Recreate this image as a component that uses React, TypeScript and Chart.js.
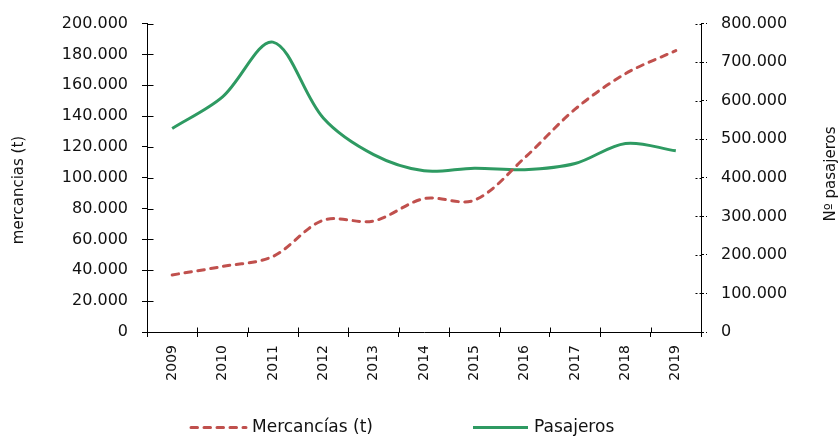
import React, { useEffect, useRef } from "react";
import { Chart, registerables } from "chart.js";

Chart.register(...registerables);

const years = ["2009", "2010", "2011", "2012", "2013", "2014", "2015", "2016", "2017", "2018", "2019"];
const mercancias = [37000, 42500, 49000, 72500, 72000, 86500, 85500, 113000, 144500, 167500, 182500];
const pasajeros = [528000, 610000, 752000, 555000, 460000, 418000, 425000, 421000, 437000, 489000, 470000];

const leftTitle = "mercancias (t)";
const rightTitle = "Nº pasajeros";
const labelMercancias = "Mercancías (t)";
const labelPasajeros = "Pasajeros";

const leftMax = 200000;
const leftStep = 20000;
const rightMax = 800000;
const rightStep = 100000;

const RED = "#C0504D";
const GREEN = "#2E9A62";
const FONT = "DejaVu Sans";
const TXT = "#111111";

const fmt = (v: number) => String(Math.round(v)).replace(/\B(?=(\d{3})+(?!\d))/g, ".");

const extras = {
  id: "extras",
  afterDraw(chart: any) {
    const { ctx, chartArea, scales } = chart;
    const { left, right, bottom } = chartArea;
    ctx.save();
    ctx.strokeStyle = "#000";
    ctx.lineWidth = 1;
    // inner tick stubs on left axis
    const ys = scales.y;
    const lx = Math.round(left) + 0.5;
    ys.ticks.forEach((_t: any, i: number) => {
      const py = Math.round(ys.getPixelForTick(i)) + 0.5;
      ctx.beginPath();
      ctx.moveTo(lx, py);
      ctx.lineTo(lx + 6, py);
      ctx.stroke();
    });
    // inner stubs on x axis at category boundaries
    const n = years.length;
    const by = Math.round(bottom) + 0.5;
    for (let i = 0; i <= n; i++) {
      const px = Math.round(left + ((right - left) * i) / n) + 0.5;
      ctx.beginPath();
      ctx.moveTo(px, by);
      ctx.lineTo(px, by - 5);
      ctx.stroke();
    }
    // inner stubs on right axis (dashed)
    const rs = scales.y1;
    const rx = Math.round(right) + 0.5;
    ctx.setLineDash([2, 2]);
    rs.ticks.forEach((_t: any, i: number) => {
      const py = Math.round(rs.getPixelForTick(i)) + 0.5;
      ctx.beginPath();
      ctx.moveTo(rx - 6, py);
      ctx.lineTo(rx, py);
      ctx.stroke();
    });
    ctx.setLineDash([]);

    // axis titles
    ctx.fillStyle = TXT;
    ctx.font = `15px "${FONT}"`;
    ctx.textAlign = "center";
    ctx.textBaseline = "middle";
    ctx.save();
    ctx.translate(19, 190);
    ctx.rotate(-Math.PI / 2);
    ctx.fillText(leftTitle, 0, 0);
    ctx.restore();
    ctx.save();
    ctx.translate(831, 174);
    ctx.rotate(-Math.PI / 2);
    ctx.fillText(rightTitle, 0, 0);
    ctx.restore();

    // legend
    const ly = 427.5;
    const items = [
      { x: 191, ds: chart.data.datasets[0] },
      { x: 473, ds: chart.data.datasets[1] },
    ];
    ctx.font = `17px "${FONT}"`;
    ctx.textAlign = "left";
    items.forEach(({ x, ds }) => {
      ctx.save();
      ctx.strokeStyle = ds.borderColor;
      ctx.lineWidth = ds.borderWidth;
      ctx.lineCap = ds.borderCapStyle || "butt";
      ctx.setLineDash(ds.borderDash || []);
      ctx.beginPath();
      ctx.moveTo(x, ly);
      ctx.lineTo(x + 55, ly);
      ctx.stroke();
      ctx.restore();
      ctx.fillStyle = TXT;
      ctx.fillText(ds.label, x + 61, ly);
    });
    ctx.restore();
  },
};

export default function App() {
  const ref = useRef<HTMLCanvasElement | null>(null);
  useEffect(() => {
    if (!ref.current) return;
    const chart = new Chart(ref.current, {
      type: "line",
      data: {
        labels: years,
        datasets: [
          {
            label: labelMercancias,
            data: mercancias,
            borderColor: RED,
            backgroundColor: RED,
            borderWidth: 3,
            borderDash: [6.5, 6.5],
            borderCapStyle: "round",
            pointRadius: 0,
            tension: 0.33,
            yAxisID: "y",
          },
          {
            label: labelPasajeros,
            data: pasajeros,
            borderColor: GREEN,
            backgroundColor: GREEN,
            borderWidth: 3,
            pointRadius: 0,
            tension: 0.33,
            yAxisID: "y1",
          },
        ],
      },
      options: {
        responsive: false,
        animation: false,
        devicePixelRatio: 1,
        layout: { padding: { top: 22, bottom: 0, left: 0, right: 0 } },
        plugins: { legend: { display: false }, tooltip: { enabled: false } },
        scales: {
          x: {
            offset: true,
            grid: { offset: true, drawOnChartArea: false, drawTicks: true, tickLength: 5, color: "#000" },
            border: { display: true, color: "#000", width: 1 },
            ticks: {
              autoSkip: false,
              minRotation: 90,
              maxRotation: 90,
              padding: 8,
              color: TXT,
              font: { family: FONT, size: 14 },
            },
            afterFit: (s: any) => {
              s.height = 106;
            },
          },
          y: {
            position: "left",
            min: 0,
            max: leftMax,
            grid: { drawOnChartArea: false, drawTicks: true, tickLength: 5, color: "#000" },
            border: { display: true, color: "#000", width: 1 },
            ticks: {
              stepSize: leftStep,
              padding: 14,
              color: TXT,
              font: { family: FONT, size: 16 },
              callback: (v: any) => fmt(Number(v)),
            },
            afterFit: (s: any) => {
              s.width = 147;
            },
          },
          y1: {
            position: "right",
            min: 0,
            max: rightMax,
            grid: { drawOnChartArea: false, drawTicks: true, tickLength: 6, color: "#000", tickBorderDash: [2, 2] },
            border: { display: true, color: "#000", width: 1, dash: [3, 2] },
            ticks: {
              stepSize: rightStep,
              padding: 14,
              color: TXT,
              font: { family: FONT, size: 16 },
              callback: (v: any) => fmt(Number(v)),
            },
            afterFit: (s: any) => {
              s.width = 138;
            },
          },
        },
      },
      plugins: [extras],
    });
    return () => chart.destroy();
  }, []);
  return (
    <div style={{ position: "fixed", left: 0, top: 0, width: 839, height: 438, background: "#fff" }}>
      <canvas ref={ref} width={839} height={438} style={{ display: "block" }} />
    </div>
  );
}
